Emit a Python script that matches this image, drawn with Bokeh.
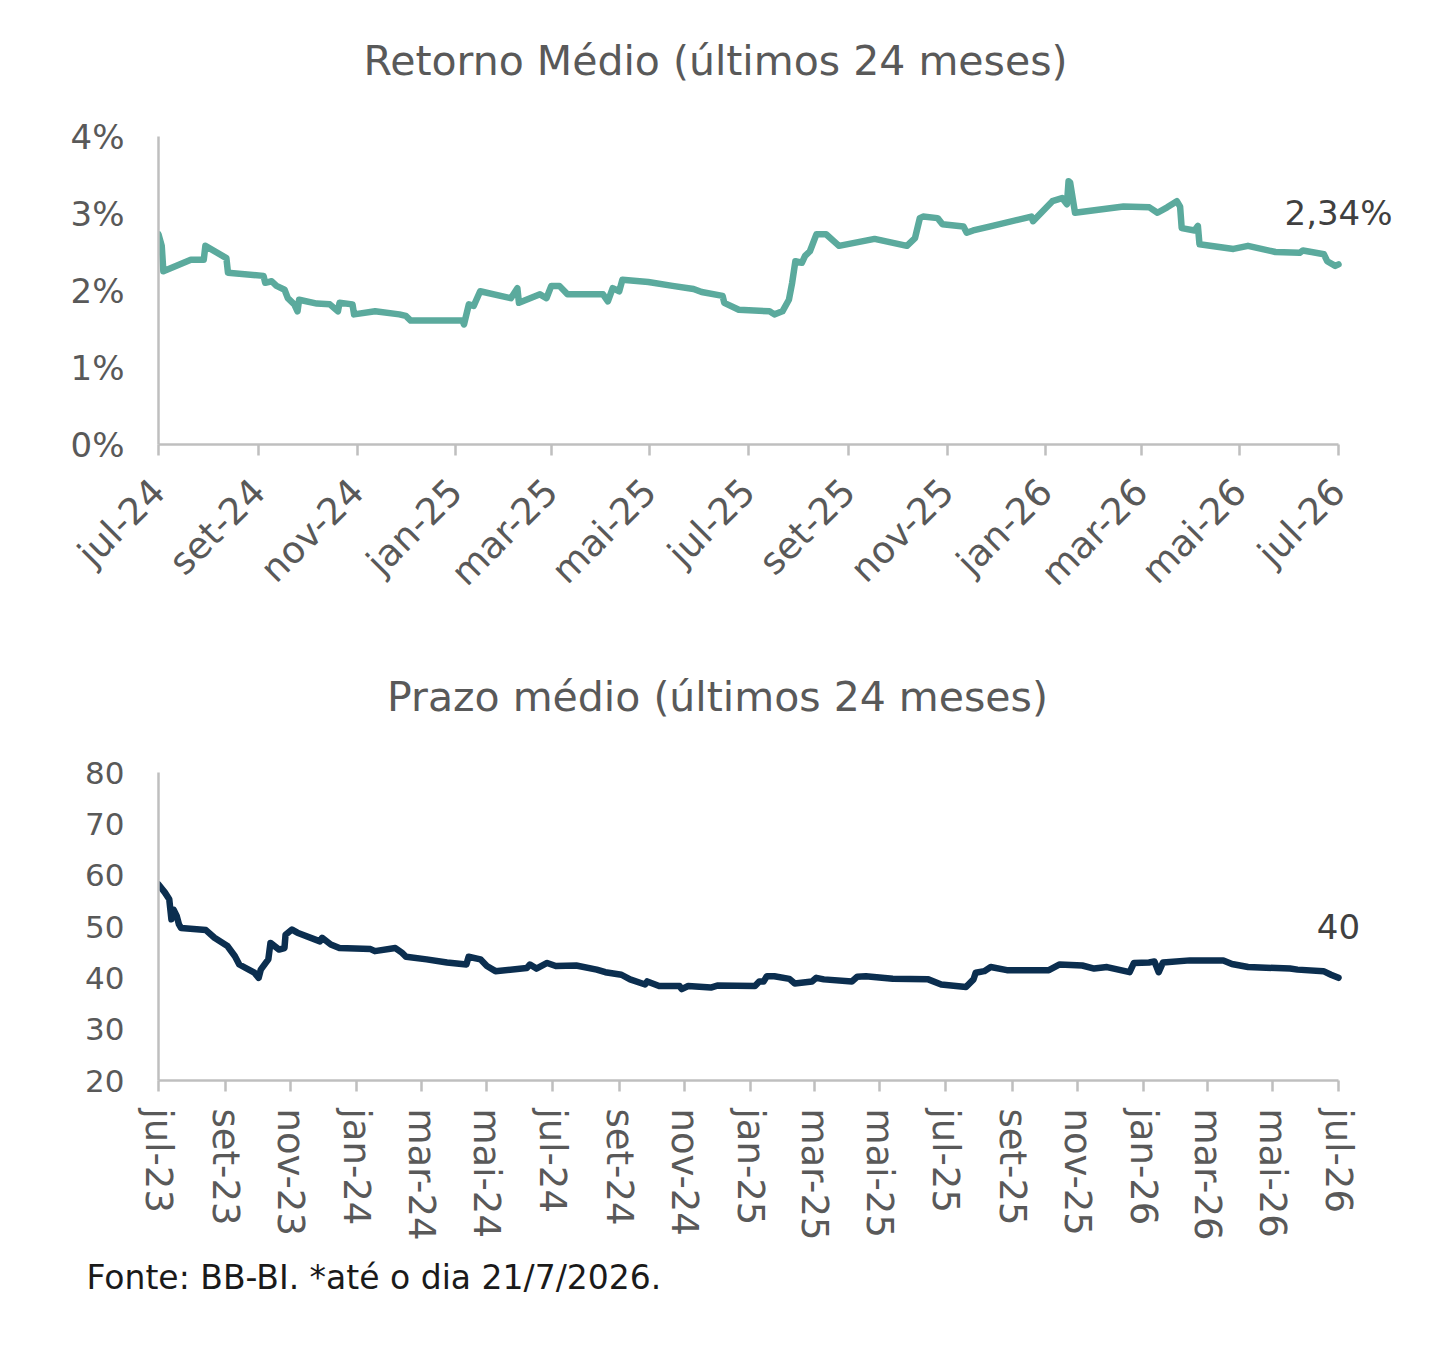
import math
import pandas as pd
from bokeh.plotting import figure
from bokeh.models import Range1d, FixedTicker, Label, Title
from bokeh.layouts import column
from bokeh.embed import file_html
from bokeh.resources import INLINE

# ---------------- data: Retorno Médio ----------------
ret_title = "Retorno Médio (últimos 24 meses)"
ret_dates = ["2024-07-01","2024-07-03","2024-07-04","2024-07-21","2024-07-29","2024-07-30","2024-08-12","2024-08-13",
             "2024-09-04","2024-09-05","2024-09-09","2024-09-12","2024-09-17","2024-09-19","2024-09-23","2024-09-25",
             "2024-09-26","2024-10-07","2024-10-15","2024-10-20","2024-10-21","2024-10-29","2024-10-30","2024-11-12",
             "2024-11-27","2024-12-01","2024-12-04","2025-01-05","2025-01-06","2025-01-09","2025-01-12","2025-01-16",
             "2025-02-04","2025-02-08","2025-02-09","2025-02-22","2025-02-26","2025-03-01","2025-03-06","2025-03-11",
             "2025-04-02","2025-04-05","2025-04-08","2025-04-12","2025-04-14","2025-04-30","2025-05-15","2025-05-28",
             "2025-06-02","2025-06-15","2025-06-16","2025-06-25","2025-07-14","2025-07-17","2025-07-22","2025-07-26",
             "2025-07-28","2025-07-30","2025-08-03","2025-08-05","2025-08-08","2025-08-12","2025-08-18","2025-08-26",
             "2025-09-17","2025-10-07","2025-10-12","2025-10-15","2025-10-17","2025-10-26","2025-10-29","2025-11-11",
             "2025-11-13","2025-11-17","2025-11-27","2025-12-23","2025-12-24","2025-12-30","2026-01-05","2026-01-11",
             "2026-01-14","2026-01-15","2026-01-16","2026-01-19","2026-02-18","2026-03-06","2026-03-11","2026-03-17",
             "2026-03-23","2026-03-25","2026-03-26","2026-04-03","2026-04-05","2026-04-06","2026-04-27","2026-05-06",
             "2026-05-23","2026-06-07","2026-06-09","2026-06-22","2026-06-24","2026-06-29","2026-07-01"]
ret_values = [2.73,2.58,2.25,2.40,2.40,2.58,2.42,2.23,2.19,2.10,2.12,2.06,2.01,1.90,1.82,1.73,1.88,1.83,1.82,1.73,
              1.84,1.82,1.69,1.73,1.69,1.67,1.61,1.61,1.56,1.82,1.80,1.99,1.90,2.03,1.84,1.95,1.90,2.06,2.06,1.95,
              1.95,1.86,2.03,1.99,2.14,2.11,2.06,2.02,1.98,1.93,1.84,1.75,1.73,1.69,1.73,1.88,2.10,2.38,2.36,2.45,
              2.51,2.73,2.73,2.58,2.67,2.58,2.68,2.94,2.96,2.94,2.86,2.83,2.75,2.78,2.83,2.96,2.90,3.03,3.16,3.20,
              3.12,3.42,3.40,3.01,3.09,3.08,3.01,3.08,3.16,3.09,2.81,2.78,2.84,2.60,2.54,2.58,2.50,2.49,2.52,2.47,
              2.38,2.32,2.34]
ret_tick_dates = ["2024-07-01","2024-09-01","2024-11-01","2025-01-01","2025-03-01","2025-05-01","2025-07-01",
                  "2025-09-01","2025-11-01","2026-01-01","2026-03-01","2026-05-01","2026-07-01"]
ret_tick_labels = ["jul-24","set-24","nov-24","jan-25","mar-25","mai-25","jul-25","set-25","nov-25","jan-26",
                   "mar-26","mai-26","jul-26"]
ret_y_ticks = [0, 1, 2, 3, 4]
ret_y_labels = ["0%", "1%", "2%", "3%", "4%"]
ret_last_label = "2,34%"
ret_label_y = 3.01

# ---------------- data: Prazo médio ----------------
pz_title = "Prazo médio (últimos 24 meses)"
pz_dates = ["2023-07-01","2023-07-07","2023-07-11","2023-07-13","2023-07-15","2023-07-18","2023-07-20","2023-07-22",
            "2023-08-14","2023-08-22","2023-09-03","2023-09-10","2023-09-14","2023-09-28","2023-10-02","2023-10-04",
            "2023-10-11","2023-10-13","2023-10-21","2023-10-26","2023-10-27","2023-11-02","2023-11-07","2023-11-28",
            "2023-11-30","2023-12-08","2023-12-16","2024-01-14","2024-01-18","2024-02-06","2024-02-12","2024-02-16",
            "2024-03-06","2024-03-25","2024-04-12","2024-04-14","2024-04-25","2024-05-01","2024-05-09","2024-06-07",
            "2024-06-10","2024-06-16","2024-06-26","2024-07-04","2024-07-23","2024-08-11","2024-08-19","2024-09-03",
            "2024-09-11","2024-09-25","2024-09-27","2024-10-08","2024-10-27","2024-10-29","2024-11-04","2024-11-25",
            "2024-12-01","2025-01-05","2025-01-09","2025-01-13","2025-01-16","2025-01-23","2025-02-06","2025-02-11",
            "2025-02-27","2025-03-03","2025-03-10","2025-04-05","2025-04-10","2025-04-18","2025-05-13","2025-06-15",
            "2025-06-27","2025-07-20","2025-07-27","2025-07-29","2025-08-06","2025-08-12","2025-08-27","2025-10-05",
            "2025-10-15","2025-11-05","2025-11-16","2025-11-28","2025-12-19","2025-12-23","2026-01-06","2026-01-11",
            "2026-01-15","2026-01-19","2026-02-13","2026-03-16","2026-03-24","2026-04-08","2026-05-17","2026-05-24",
            "2026-06-17","2026-06-24","2026-07-01"]
pz_values = [58.2,56.6,55.3,51.4,53.3,52.0,50.4,49.7,49.3,47.8,46.2,44.2,42.6,41.0,40.0,41.6,43.6,46.8,45.5,45.8,
             48.4,49.4,48.8,47.1,47.8,46.5,45.8,45.6,45.2,45.8,44.9,44.1,43.6,43.0,42.6,44.1,43.6,42.3,41.3,41.9,
             42.6,41.8,42.9,42.3,42.4,41.6,41.1,40.6,39.7,38.7,39.3,38.4,38.4,37.8,38.4,38.1,38.5,38.4,39.3,39.3,
             40.3,40.3,39.8,38.9,39.3,40.0,39.7,39.3,40.2,40.3,39.8,39.7,38.7,38.2,39.7,41.0,41.3,42.1,41.5,41.5,
             42.6,42.4,41.8,42.1,41.1,42.9,43.0,43.2,41.1,43.0,43.4,43.4,42.7,42.1,41.8,41.6,41.3,40.6,40.0]
pz_tick_dates = ["2023-07-01","2023-09-01","2023-11-01","2024-01-01","2024-03-01","2024-05-01","2024-07-01",
                 "2024-09-01","2024-11-01","2025-01-01","2025-03-01","2025-05-01","2025-07-01","2025-09-01",
                 "2025-11-01","2026-01-01","2026-03-01","2026-05-01","2026-07-01"]
pz_tick_labels = ["jul-23","set-23","nov-23","jan-24","mar-24","mai-24","jul-24","set-24","nov-24","jan-25",
                  "mar-25","mai-25","jul-25","set-25","nov-25","jan-26","mar-26","mai-26","jul-26"]
pz_y_ticks = [20, 30, 40, 50, 60, 70, 80]
pz_y_labels = ["20", "30", "40", "50", "60", "70", "80"]
pz_last_label = "40"
pz_label_y = 50

footer_text = "Fonte: BB-BI. *até o dia 21/7/2026."

# ---------------- styling / layout ----------------
FONT = "DejaVu Sans"
GREY_TXT = "#595959"
AXIS_GREY = "#BFBFBF"
TEAL = "#5BAA9D"
NAVY = "#0B2E4F"

FIG_W = 1416
BORDER_L = 158
BORDER_R = 20
BORDER_T = 10
AXIS_W = 1180            # pixel length of the drawn x axis (first to last tick)
AXIS_H = 308             # pixel length of the drawn y axis (first to last tick)
FRAME_W = FIG_W - BORDER_L - BORDER_R


def to_days(dates, base):
    b = pd.Timestamp(base)
    return [(pd.Timestamp(d) - b).days for d in dates]


def style(p, xticks, xlabels, yticks, ylabels, xsize, ysize, orient, xstand):
    p.outline_line_color = None
    p.grid.grid_line_color = None
    p.background_fill_color = "white"
    p.border_fill_color = "white"
    xa = p.xaxis[0]
    xa.ticker = FixedTicker(ticks=xticks)
    xa.bounds = (xticks[0], xticks[-1])
    xa.major_label_overrides = {t: l for t, l in zip(xticks, xlabels)}
    xa.axis_line_color = AXIS_GREY
    xa.axis_line_width = 2.5
    xa.major_tick_line_color = AXIS_GREY
    xa.major_tick_line_width = 2.5
    xa.major_tick_in = 0
    xa.major_tick_out = 11
    xa.minor_tick_line_color = None
    xa.major_label_orientation = orient
    xa.major_label_text_font = FONT
    xa.major_label_text_font_size = xsize
    xa.major_label_text_color = GREY_TXT
    xa.major_label_standoff = xstand
    ya = p.yaxis[0]
    ya.ticker = FixedTicker(ticks=yticks)
    ya.bounds = (yticks[0], yticks[-1])
    ya.major_label_overrides = {t: l for t, l in zip(yticks, ylabels)}
    ya.axis_line_color = AXIS_GREY
    ya.axis_line_width = 2.5
    ya.major_tick_line_color = None
    ya.minor_tick_line_color = None
    ya.major_label_text_font = FONT
    ya.major_label_text_font_size = ysize
    ya.major_label_text_color = GREY_TXT
    ya.major_label_standoff = 28


def add_title(p, text, sx, sy):
    p.add_layout(Label(x=sx, y=sy, x_units="screen", y_units="screen", text=text,
                       text_align="center", text_baseline="alphabetic", text_font=FONT,
                       text_font_size="41px", text_color=GREY_TXT))


# ---------------- chart 1 ----------------
H1, B1 = 639, 195
ret_x = to_days(ret_dates, ret_tick_dates[0])
ret_tx = to_days(ret_tick_dates, ret_tick_dates[0])
ret_x_end = ret_tx[-1] * FRAME_W / AXIS_W
ret_y_end = ret_y_ticks[0] + (ret_y_ticks[-1] - ret_y_ticks[0]) * (H1 - BORDER_T - B1) / AXIS_H

p1 = figure(width=FIG_W, height=H1, output_backend="svg", toolbar_location=None,
            x_range=Range1d(ret_tx[0], ret_x_end), y_range=Range1d(ret_y_ticks[0], ret_y_end),
            min_border_left=BORDER_L, min_border_right=BORDER_R, min_border_top=BORDER_T, min_border_bottom=B1)
p1.line(ret_x, ret_values, line_color=TEAL, line_width=6.5, line_join="round", line_cap="round")
style(p1, ret_tx, ret_tick_labels, ret_y_ticks, ret_y_labels, "37px", "34px", math.pi / 4, 30)
add_title(p1, ret_title, 557, 384)
p1.add_layout(Label(x=ret_x[-1], y=ret_label_y, text=ret_last_label, text_align="center",
                    text_baseline="middle", text_font=FONT, text_font_size="34px", text_color="#404040"))

# ---------------- chart 2 ----------------
H2, B2 = 701, 260
pz_x = to_days(pz_dates, pz_tick_dates[0])
pz_tx = to_days(pz_tick_dates, pz_tick_dates[0])
pz_x_end = pz_tx[-1] * FRAME_W / AXIS_W
pz_y_end = pz_y_ticks[0] + (pz_y_ticks[-1] - pz_y_ticks[0]) * (H2 - BORDER_T - B2) / AXIS_H

p2 = figure(width=FIG_W, height=H2, output_backend="svg", toolbar_location=None,
            x_range=Range1d(pz_tx[0], pz_x_end), y_range=Range1d(pz_y_ticks[0], pz_y_end),
            min_border_left=BORDER_L, min_border_right=BORDER_R, min_border_top=BORDER_T, min_border_bottom=B2)
p2.line(pz_x, pz_values, line_color=NAVY, line_width=6.5, line_join="round", line_cap="round")
style(p2, pz_tx, pz_tick_labels, pz_y_ticks, pz_y_labels, "37px", "31px", "vertical", 17)
add_title(p2, pz_title, 559, 384)
p2.add_layout(Label(x=pz_x[-1], y=pz_label_y, text=pz_last_label, text_align="center",
                    text_baseline="middle", text_font=FONT, text_font_size="34px", text_color="#404040"))

foot = Title(text=footer_text, align="left", offset=-72, standoff=25, text_font=FONT,
             text_font_size="33px", text_font_style="normal", text_color="#1A1A1A")
p2.add_layout(foot, "below")

layout = column(p1, p2)
open("out.html", "w").write(file_html(layout, INLINE))
